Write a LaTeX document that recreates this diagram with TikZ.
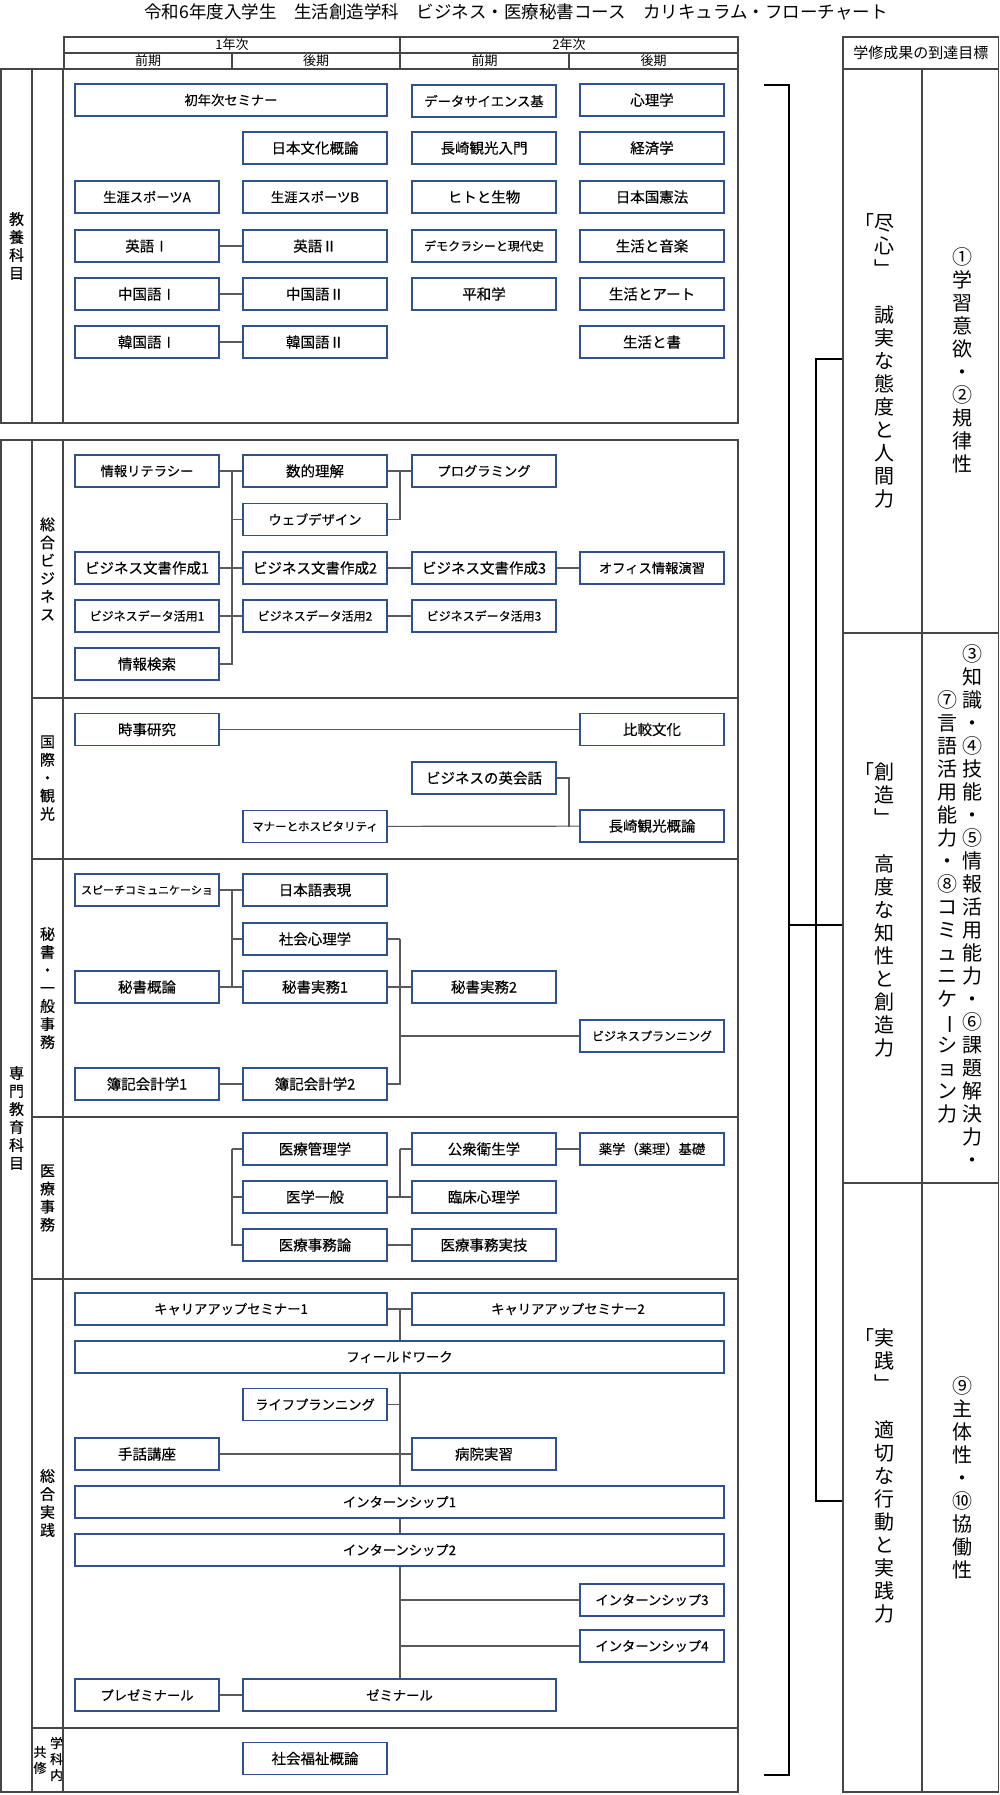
\documentclass[tikz,border=0pt]{standalone}
\usepackage{fontspec}
\usepackage{graphicx}
\setmainfont{Noto Sans CJK JP}
\newfontfamily\boxfont{Noto Sans CJK JP}[FakeBold=0.3]
\usetikzlibrary{positioning}

\definecolor{boxblue}{RGB}{47,82,143}
\definecolor{linkgray}{RGB}{90,90,90}
\definecolor{gridgray}{RGB}{70,70,70}
\newcommand{\fsz}[2]{\fontsize{#1}{#2}\selectfont}
\newcommand{\tatebar}{\rotatebox[origin=c]{-90}{ー}}

\begin{document}
\begin{tikzpicture}[x=1pt,y=-1pt,
    subj/.style={draw=boxblue,line width=1.8pt,fill=white,minimum width=144pt,minimum height=32pt,inner sep=0pt,font=\boxfont\fsz{14.5}{16}},
    subjm/.style={subj,font=\boxfont\fsz{13.3}{15}},
    subjs/.style={subj,font=\boxfont\fsz{12}{14}},
    link/.style={draw=linkgray,line width=1.2pt},
    gridline/.style={draw=gridgray,line width=1.3pt},
    cell/.style={draw=gridgray,line width=1.3pt,inner sep=0pt},
    bracketline/.style={draw=black,line width=1.8pt},
    tate/.style={align=center,inner sep=0pt,font=\boxfont\fsz{15}{18}},
    goaltext/.style={align=center,inner sep=0pt,font=\fsz{20}{23}}]
    \useasboundingbox (0,0) rectangle (1000,1795);

    % title
    \node[font=\fsz{17.5}{20}] (title) at (516,12) {令和6年度入学生\hspace{1em}生活創造学科\hspace{1em}ビジネス・医療秘書コース\hspace{1em}カリキュラム・フローチャート};

    % year header
    \draw[gridline] (64,37) rectangle (738,69);
    \draw[gridline] (64,53) -- (738,53);
    \draw[gridline] (400,37) -- (400,69);
    \draw[gridline] (232,53) -- (232,69);
    \draw[gridline] (569,53) -- (569,69);
    \node[font=\fsz{13}{14}] (year1) at (232,45) {1年次};
    \node[font=\fsz{13}{14}] (year2) at (569,45) {2年次};
    \node[font=\fsz{13}{14}] (term1a) at (148,61) {前期};
    \node[font=\fsz{13}{14}] (term1b) at (316,61) {後期};
    \node[font=\fsz{13}{14}] (term2a) at (484.5,61) {前期};
    \node[font=\fsz{13}{14}] (term2b) at (653.5,61) {後期};

    % frames of the two blocks
    \draw[gridline] (1,69) rectangle (738,423);
    \draw[gridline] (32,69) -- (32,423);
    \draw[gridline] (63,69) -- (63,423);
    \draw[gridline] (1,440) rectangle (738,1792);
    \draw[gridline] (32,440) -- (32,1792);
    \draw[gridline] (63,440) -- (63,1792);
    \foreach \y in {698,859,1117,1279,1728}
        \draw[gridline] (32,\y) -- (738,\y);

    % row labels
    \node[tate] (kyoyo) at (16.5,246) {教\\養\\科\\目};
    \node[tate] (senmon) at (16.5,1118) {専\\門\\教\\育\\科\\目};
    \node[tate] (sogobiz) at (47.5,569) {総\\合\\ビ\\ジ\\ネ\\ス};
    \node[tate] (kokusai) at (47.5,778) {国\\際\\・\\観\\光};
    \node[tate] (hishoji) at (47.5,988) {秘\\書\\・\\一\\般\\事\\務};
    \node[tate] (iryoji) at (47.5,1198) {医\\療\\事\\務};
    \node[tate] (sogojis) at (47.5,1503) {総\\合\\実\\践};
    \node[tate,font=\boxfont\fsz{13}{16}] (gakkanai) at (56.5,1759) {学\\科\\内};
    \node[tate,font=\boxfont\fsz{13}{16}] (kyoshu) at (40,1760) {共\\修};

    % general subjects
    \node[subjm,minimum width=312pt] (seminar) at (231,100) {初年次セミナー};
    \node[subjm] (datasci) at (484,101) {データサイエンス基};
    \node[subj] (psych) at (652,100) {心理学};
    \node[subj] (bunka) at (315,148) {日本文化概論};
    \node[subj] (ngsintro) at (484,148) {長崎観光入門};
    \node[subj] (econ) at (652,148) {経済学};
    \node[subjm] (sporta) at (147,197) {生涯スポーツA};
    \node[subjm] (sportb) at (315,197) {生涯スポーツB};
    \node[subj] (hito) at (484,197) {ヒトと生物};
    \node[subj] (kenpo) at (652,197) {日本国憲法};
    \node[subj] (eng1) at (147,246) {英語Ⅰ};
    \node[subj] (eng2) at (315,246) {英語Ⅱ};
    \node[subjs] (demo) at (484,246) {デモクラシーと現代史};
    \node[subj] (music) at (652,246) {生活と音楽};
    \node[subj] (chn1) at (147,294) {中国語Ⅰ};
    \node[subj] (chn2) at (315,294) {中国語Ⅱ};
    \node[subj] (peace) at (484,294) {平和学};
    \node[subj] (art) at (652,294) {生活とアート};
    \node[subj] (kor1) at (147,342) {韓国語Ⅰ};
    \node[subj] (kor2) at (315,342) {韓国語Ⅱ};
    \node[subj] (shodo) at (652,342) {生活と書};
    \draw[link] (eng1) -- (eng2);
    \draw[link] (chn1) -- (chn2);
    \draw[link] (kor1) -- (kor2);

    % general business
    \node[subjm] (literacy) at (147,471) {情報リテラシー};
    \node[subj] (math) at (315,471) {数的理解};
    \node[subjm] (prog) at (484,471) {プログラミング};
    \node[subjm] (web) at (315,519.5) {ウェブデザイン};
    \node[subj] (doc1) at (147,568) {ビジネス文書作成1};
    \node[subj] (doc2) at (315,568) {ビジネス文書作成2};
    \node[subj] (doc3) at (484,568) {ビジネス文書作成3};
    \node[subjm] (office) at (652,568) {オフィス情報演習};
    \node[subjs] (data1) at (147,616) {ビジネスデータ活用1};
    \node[subjs] (data2) at (315,616) {ビジネスデータ活用2};
    \node[subjs] (data3) at (484,616) {ビジネスデータ活用3};
    \node[subj] (search) at (147,664) {情報検索};
    \coordinate (jbiz1) at (232,471);
    \coordinate (jbiz2) at (400,471);
    \draw[link] (literacy) -- (math);
    \draw[link] (search.east) -| (jbiz1);
    \draw[link] (jbiz1) |- (web.west);
    \draw[link] (doc1) -- (doc2);
    \draw[link] (data1) -- (data2);
    \draw[link] (math) -- (prog);
    \draw[link] (web.east) -| (jbiz2);
    \draw[link] (doc2) -- (doc3);
    \draw[link] (doc3) -- (office);
    \draw[link] (data2) -- (data3);

    % international and tourism
    \node[subj] (news) at (147,729.5) {時事研究};
    \node[subj] (compare) at (652,729.5) {比較文化};
    \node[subj] (eikaiwa) at (484,778) {ビジネスの英会話};
    \node[subjs,font=\boxfont\fsz{11.5}{13}] (manner) at (315,826.5) {マナーとホスピタリティ};
    \node[subj] (ngsgai) at (652,826) {長崎観光概論};
    \coordinate (jtour) at (569,826.5);
    \draw[link] (news) -- (compare);
    \draw[link] (manner) -- (ngsgai);
    \draw[link] (eikaiwa.east) -| (jtour);

    % secretary and office work
    \node[subjs,font=\boxfont\fsz{11}{13}] (speech) at (147,890) {スピーチコミュニケーショ};
    \node[subj] (nihongo) at (315,890) {日本語表現};
    \node[subj] (shakai) at (315,939) {社会心理学};
    \node[subj] (hgairon) at (147,987) {秘書概論};
    \node[subj] (hjitsu1) at (315,987) {秘書実務1};
    \node[subj] (hjitsu2) at (484,987) {秘書実務2};
    \node[subjs] (planning) at (652,1036) {ビジネスプランニング};
    \node[subj] (boki1) at (147,1084) {簿記会計学1};
    \node[subj] (boki2) at (315,1084) {簿記会計学2};
    \coordinate (jsec1) at (232,890);
    \coordinate (jsec2) at (400,939);
    \draw[link] (speech) -- (nihongo);
    \draw[link] (hgairon.east) -| (jsec1);
    \draw[link] (jsec1) |- (shakai.west);
    \draw[link] (hgairon) -- (hjitsu1);
    \draw[link] (shakai.east) -- (jsec2);
    \draw[link] (boki2.east) -| (jsec2);
    \draw[link] (jsec2) |- (planning.west);
    \draw[link] (hjitsu1) -- (hjitsu2);
    \draw[link] (boki1) -- (boki2);

    % medical office work
    \node[subj] (kanri) at (315,1149) {医療管理学};
    \node[subj] (koshu) at (484,1149) {公衆衛生学};
    \node[subjm] (yakugaku) at (652,1149) {薬学（薬理）基礎};
    \node[subj] (igaku) at (315,1197) {医学一般};
    \node[subj] (rinsho) at (484,1197) {臨床心理学};
    \node[subj] (jimuron) at (315,1245) {医療事務論};
    \node[subj] (jitsugi) at (484,1245) {医療事務実技};
    \coordinate (jmed1) at (232,1149);
    \coordinate (jmed2) at (400,1149);
    \draw[link] (jmed1) -- (kanri.west);
    \draw[link] (jmed1) |- (igaku.west);
    \draw[link] (jmed1) |- (jimuron.west);
    \draw[link] (igaku) -- (rinsho);
    \draw[link] (igaku.east) -| (jmed2);
    \draw[link] (jmed2) -- (koshu.west);
    \draw[link] (koshu) -- (yakugaku);
    \draw[link] (jimuron) -- (jitsugi);

    % general practice
    \node[subjm,minimum width=312pt] (career1) at (231,1309) {キャリアアップセミナー1};
    \node[subjm,minimum width=312pt] (career2) at (568,1309) {キャリアアップセミナー2};
    \node[subjm,minimum width=649pt] (field) at (399.5,1357) {フィールドワーク};
    \node[subjm] (life) at (315,1404.5) {ライフプランニング};
    \node[subj] (shuwa) at (147,1454) {手話講座};
    \node[subj] (byoin) at (484,1454) {病院実習};
    \node[subjm,minimum width=649pt] (intern1) at (399.5,1502) {インターンシップ1};
    \node[subjm,minimum width=649pt] (intern2) at (399.5,1550) {インターンシップ2};
    \node[subjm] (intern3) at (652,1600) {インターンシップ3};
    \node[subjm] (intern4) at (652,1646) {インターンシップ4};
    \node[subjm] (presemi) at (147,1695) {プレゼミナール};
    \node[subjm,minimum width=313pt] (semi) at (399.5,1695) {ゼミナール};
    \coordinate (jprac) at (400,1309);
    \draw[link] (career1) -- (career2);
    \draw[link] (jprac) -- (jprac |- field.north);
    \draw[link] (field.south -| jprac) -- (jprac |- intern1.north);
    \draw[link] (life.east) -- (life.east -| jprac);
    \draw[link] (shuwa) -- (byoin);
    \draw[link] (intern1.south -| jprac) -- (jprac |- intern2.north);
    \draw[link] (intern2.south -| jprac) -- (jprac |- semi.north);
    \draw[link] (jprac |- intern3) -- (intern3.west);
    \draw[link] (jprac |- intern4) -- (intern4.west);
    \draw[link] (presemi) -- (semi);

    % shared within department
    \node[subj] (fukushi) at (315,1758.5) {社会福祉概論};

    % goals table
    \node[cell,minimum width=155.5pt,minimum height=32pt,font=\fsz{15}{17}] (aimhead) at (920.75,53) {学修成果の到達目標};
    \node[cell,minimum width=79pt,minimum height=564pt] (aim1) at (882.5,351) {};
    \node[cell,minimum width=76.5pt,minimum height=564pt] (goal1) at (960.25,351) {};
    \node[cell,minimum width=79pt,minimum height=550pt] (aim2) at (882.5,908) {};
    \node[cell,minimum width=76.5pt,minimum height=550pt] (goal2) at (960.25,908) {};
    \node[cell,minimum width=79pt,minimum height=609pt] (aim3) at (882.5,1487.5) {};
    \node[cell,minimum width=76.5pt,minimum height=609pt] (goal3) at (960.25,1487.5) {};

    \node[goaltext] (aim1txt) at (884,361) {\llap{「}尽\\心\\﹂\\[23pt]誠\\実\\な\\態\\度\\と\\人\\間\\力};
    \node[goaltext] (goal1txt) at (962,360) {①\\学\\習\\意\\欲\\・\\②\\規\\律\\性};
    \node[goaltext] (aim2txt) at (884,910) {\llap{「}創\\造\\﹂\\[23pt]高\\度\\な\\知\\性\\と\\創\\造\\力};
    \node[goaltext] (goal2txta) at (972,906.5) {③\\知\\識\\・\\④\\技\\能\\・\\⑤\\情\\報\\活\\用\\能\\力\\・\\⑥\\課\\題\\解\\決\\力\\・};
    \node[goaltext] (goal2txtb) at (947,906.5) {⑦\\言\\語\\活\\用\\能\\力\\・\\⑧\\コ\\ミ\\ュ\\ニ\\ケ\\\tatebar\\シ\\ョ\\ン\\力};
    \node[goaltext] (aim3txt) at (884,1476) {\llap{「}実\\践\\﹂\\[23pt]適\\切\\な\\行\\動\\と\\実\\践\\力};
    \node[goaltext] (goal3txt) at (962,1478) {⑨\\主\\体\\性\\・\\⑩\\協\\働\\性};

    % bracket to the goals
    \draw[bracketline] (764,85) -- (789,85) -- (789,1775) -- (764,1775);
    \coordinate (brmid) at (789,925);
    \coordinate (brup) at (816,359);
    \coordinate (brdown) at (816,1501);
    \draw[bracketline] (brmid) -- (brmid -| aim2.west);
    \draw[bracketline] (brup -| aim1.west) -- (brup) -- (brdown) -- (brdown -| aim3.west);
\end{tikzpicture}
\end{document}
